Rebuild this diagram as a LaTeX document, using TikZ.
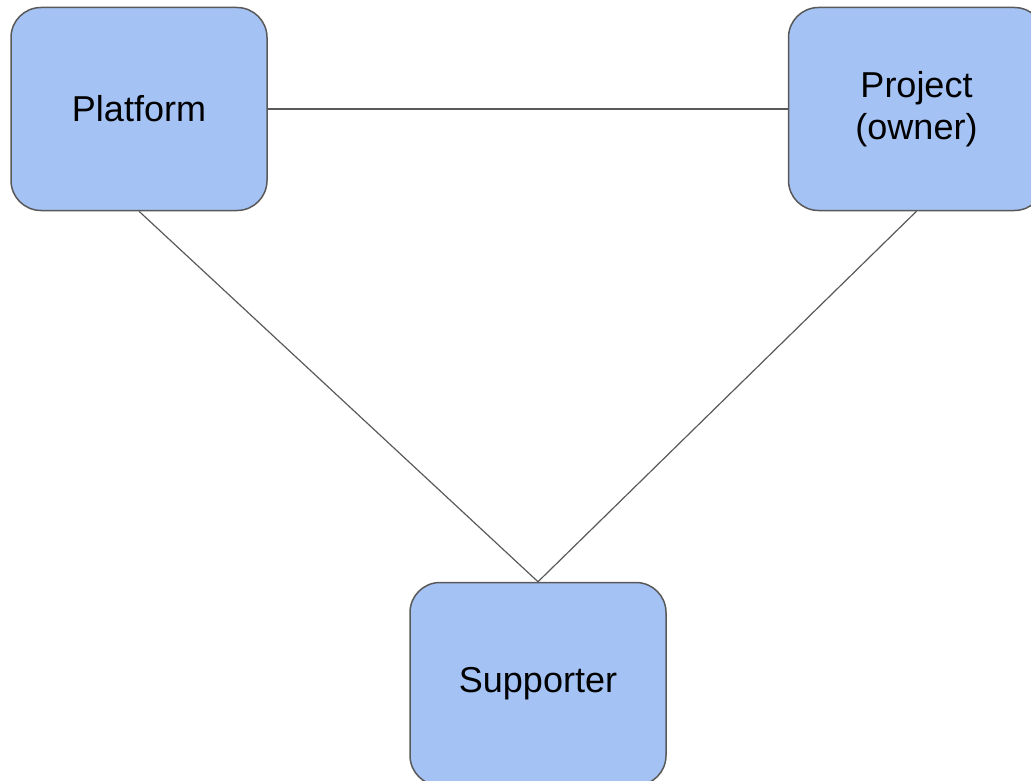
\documentclass[tikz,border=0pt]{standalone}
\usepackage{fontspec}
\setmainfont{Liberation Sans}
\usepackage{tikz}
\usetikzlibrary{positioning}
\definecolor{boxblue}{HTML}{A4C2F4}
\definecolor{linegray}{HTML}{595959}

\begin{document}
\begin{tikzpicture}[
    x=1pt, y=1pt,
    node distance=520pt,
    actor/.style={rectangle, draw=linegray, line width=1.5pt, rounded corners=30pt, fill=boxblue, minimum width=256pt, minimum height=203pt, inner sep=0pt, font=\fontsize{36}{42}\selectfont, align=center},
    link/.style={draw=linegray, line width=1.2pt},
]
\useasboundingbox (0,0) rectangle (1031,-781);

% === ACTORS ===
\node[actor] (platform) at (139,-109) {Platform};
\node[actor, right=of platform] (project) {Project\\(owner)};
\node[actor] (supporter) at (538,-684) {Supporter};

% === LINKS ===
\draw[link] (platform.east) -- (project.west);
\draw[link] (platform.south) -- (supporter.north);
\draw[link] (project.south) -- (supporter.north);

\end{tikzpicture}
\end{document}
